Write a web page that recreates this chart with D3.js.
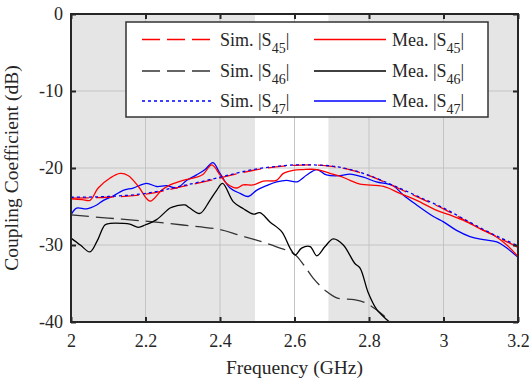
<!DOCTYPE html>
<html lang="en">
<head>
  <meta charset="UTF-8">
  <title>Coupling Coefficient</title>
  <script src="https://d3js.org/d3.v7.min.js"></script>
  <style>
    body { margin: 0; background: #fff; }
    text { font-family: "Liberation Serif", "Times New Roman", serif; fill: #262626; }
  </style>
</head>
<body>
  <svg id="chart" width="530" height="382"></svg>

  <script>
    // frequency (GHz) / coupling (dB) pairs
    const simS45 = [[2.0,-23.9],[2.1,-23.8],[2.2,-23.4],[2.3,-22.4],[2.4,-21.3],[2.45,-20.7],[2.5,-20.2],[2.55,-19.85],[2.6,-19.65],[2.65,-19.6],[2.7,-19.8],[2.75,-20.25],[2.8,-21.0],[2.85,-22.0],[2.9,-23.1],[2.95,-24.2],[3.0,-25.3],[3.05,-26.6],[3.1,-27.9],[3.15,-29.1],[3.2,-30.3]];
    const simS46 = [[2.0,-26.1],[2.1,-26.5],[2.2,-26.9],[2.3,-27.4],[2.4,-28.0],[2.45,-28.7],[2.5,-29.4],[2.55,-30.2],[2.6,-31.2],[2.625,-32.6],[2.65,-34.3],[2.685,-36.0],[2.715,-36.9],[2.76,-37.1],[2.79,-37.5],[2.82,-38.4],[2.85,-39.6],[2.88,-40.8],[2.95,-43]];
    const simS47 = [[2.0,-23.8],[2.1,-23.7],[2.2,-23.3],[2.3,-22.3],[2.4,-21.2],[2.45,-20.6],[2.5,-20.1],[2.55,-19.8],[2.6,-19.6],[2.65,-19.6],[2.7,-19.75],[2.75,-20.2],[2.8,-20.95],[2.85,-21.95],[2.9,-23.0],[2.95,-24.1],[3.0,-25.2],[3.05,-26.5],[3.1,-27.8],[3.15,-29.0],[3.2,-30.1]];

    const meaS45 = [[2.0,-24.0],[2.03,-24.1],[2.051,-24.2],[2.073,-22.6],[2.105,-21.3],[2.132,-20.7],[2.154,-21.0],[2.181,-22.4],[2.212,-24.3],[2.243,-22.9],[2.266,-22.2],[2.301,-21.6],[2.337,-21.2],[2.355,-20.8],[2.378,-19.6],[2.4,-20.9],[2.418,-22.0],[2.445,-22.6],[2.462,-22.2],[2.489,-22.2],[2.516,-21.7],[2.552,-21.6],[2.57,-20.7],[2.596,-20.3],[2.623,-20.2],[2.66,-20.2],[2.695,-20.7],[2.73,-21.2],[2.749,-21.6],[2.776,-22.1],[2.839,-22.4],[2.883,-23.3],[2.928,-24.2],[2.982,-25.5],[3.017,-26.1],[3.062,-27.0],[3.107,-28.1],[3.134,-28.7],[3.17,-30.0],[3.2,-31.5]];
    const meaS46 = [[2.0,-29.1],[2.025,-30.0],[2.051,-30.9],[2.07,-29.5],[2.091,-27.4],[2.105,-27.2],[2.14,-27.2],[2.158,-27.3],[2.181,-27.7],[2.199,-27.4],[2.23,-26.7],[2.266,-25.2],[2.284,-24.9],[2.306,-24.8],[2.319,-25.2],[2.346,-25.9],[2.373,-24.2],[2.391,-22.9],[2.407,-22.0],[2.436,-24.4],[2.463,-25.3],[2.49,-26.0],[2.507,-25.8],[2.534,-27.0],[2.566,-28.3],[2.588,-30.4],[2.602,-31.3],[2.619,-30.4],[2.642,-30.2],[2.66,-31.4],[2.682,-30.2],[2.704,-29.2],[2.731,-30.0],[2.762,-32.4],[2.776,-33.0],[2.798,-36.2],[2.821,-38.4],[2.848,-39.7],[2.87,-40.6],[2.9,-42]];
    const meaS47 = [[2.0,-26.1],[2.015,-25.2],[2.042,-25.3],[2.069,-24.8],[2.087,-24.2],[2.114,-23.6],[2.14,-22.9],[2.167,-22.6],[2.203,-22.0],[2.23,-22.4],[2.257,-22.3],[2.284,-22.6],[2.311,-21.6],[2.337,-20.9],[2.36,-20.2],[2.381,-19.3],[2.4,-20.7],[2.427,-22.6],[2.454,-23.3],[2.476,-23.7],[2.498,-22.9],[2.525,-22.3],[2.552,-21.8],[2.579,-21.6],[2.606,-21.8],[2.633,-20.9],[2.66,-20.2],[2.686,-20.9],[2.722,-21.0],[2.749,-20.8],[2.785,-21.2],[2.82,-21.8],[2.865,-22.3],[2.892,-23.5],[2.928,-24.8],[2.973,-26.3],[3.0,-27.0],[3.035,-28.1],[3.071,-28.9],[3.107,-29.3],[3.143,-29.6],[3.17,-30.4],[3.2,-31.6]];

    // shaded (out-of-band) frequency ranges
    const bands = [[2.0, 2.494], [2.691, 3.2]];
    const xTicks = [2, 2.2, 2.4, 2.6, 2.8, 3, 3.2];
    const yTicks = [0, -10, -20, -30, -40];

    const series = [
      { name: 'Sim. |S', sub: '45', data: simS45, color: '#ff0000', dash: '18,7' },
      { name: 'Sim. |S', sub: '46', data: simS46, color: '#333333', dash: '18,7' },
      { name: 'Sim. |S', sub: '47', data: simS47, color: '#0000ff', dash: '3,3' },
      { name: 'Mea. |S', sub: '45', data: meaS45, color: '#ff0000', dash: null },
      { name: 'Mea. |S', sub: '46', data: meaS46, color: '#000000', dash: null },
      { name: 'Mea. |S', sub: '47', data: meaS47, color: '#0000ff', dash: null }
    ];

    const margin = { top: 14, right: 12, bottom: 60, left: 71 };
    const width = 530 - margin.left - margin.right;
    const height = 382 - margin.top - margin.bottom;

    const svg = d3.select('#chart');
    const g = svg.append('g').attr('transform', `translate(${margin.left},${margin.top})`);

    const x = d3.scaleLinear().domain([2, 3.2]).range([0, width]);
    const y = d3.scaleLinear().domain([-40, 0]).range([height, 0]);

    svg.append('defs').append('clipPath').attr('id', 'plot-clip')
      .append('rect').attr('width', width).attr('height', height);

    // gray bands
    g.selectAll('rect.band').data(bands).enter()
      .append('rect')
      .attr('class', 'band')
      .attr('x', d => x(d[0]))
      .attr('width', d => x(d[1]) - x(d[0]))
      .attr('y', 0)
      .attr('height', height)
      .attr('fill', '#e5e5e5');

    // grid
    g.selectAll('line.gx').data(xTicks.slice(1, -1)).enter()
      .append('line')
      .attr('x1', d => x(d)).attr('x2', d => x(d))
      .attr('y1', 0).attr('y2', height)
      .attr('stroke', '#c4c4c4').attr('stroke-width', 1);
    g.selectAll('line.gy').data(yTicks.slice(1, -1)).enter()
      .append('line')
      .attr('y1', d => y(d)).attr('y2', d => y(d))
      .attr('x1', 0).attr('x2', width)
      .attr('stroke', '#c4c4c4').attr('stroke-width', 1);

    // curves
    const line = d3.line()
      .x(d => x(d[0]))
      .y(d => y(d[1]))
      .curve(d3.curveCatmullRom.alpha(0.5));

    const plot = g.append('g').attr('clip-path', 'url(#plot-clip)');
    const drawOrder = [1, 4, 5, 3, 0, 2];
    drawOrder.forEach(i => {
      const s = series[i];
      plot.append('path')
        .datum(s.data)
        .attr('d', line)
        .attr('fill', 'none')
        .attr('stroke', s.color)
        .attr('stroke-width', 1.3)
        .attr('stroke-dasharray', s.dash);
    });

    // axes (plain hyphen for negatives, like the original)
    const fmt = d => String(d);
    g.append('g')
      .attr('transform', `translate(0,${height})`)
      .call(d3.axisBottom(x).tickValues(xTicks).tickFormat(fmt).tickSizeInner(-5).tickSizeOuter(0).tickPadding(12))
      .call(a => a.select('.domain').remove());
    g.append('g')
      .call(d3.axisTop(x).tickValues(xTicks).tickFormat('').tickSizeInner(-5).tickSizeOuter(0))
      .call(a => a.select('.domain').remove());
    g.append('g')
      .call(d3.axisLeft(y).tickValues(yTicks).tickFormat(fmt).tickSizeInner(-5).tickSizeOuter(0).tickPadding(8))
      .call(a => a.select('.domain').remove());
    g.append('g')
      .attr('transform', `translate(${width},0)`)
      .call(d3.axisRight(y).tickValues(yTicks).tickFormat('').tickSizeInner(-5).tickSizeOuter(0))
      .call(a => a.select('.domain').remove());

    g.selectAll('.tick line').attr('stroke', '#262626').attr('stroke-width', 2);
    g.selectAll('.tick text')
      .style('font-family', '"Liberation Serif", "Times New Roman", serif')
      .style('font-size', '18px')
      .attr('fill', '#262626');

    g.append('rect')
      .attr('width', width).attr('height', height)
      .attr('fill', 'none').attr('stroke', '#262626').attr('stroke-width', 2);

    // axis titles
    g.append('text')
      .attr('x', width / 2).attr('y', height + 52)
      .attr('text-anchor', 'middle')
      .style('font-size', '19.5px')
      .text('Frequency (GHz)');
    g.append('text')
      .attr('transform', `translate(${-53},${height / 2}) rotate(-90)`)
      .attr('text-anchor', 'middle')
      .style('font-size', '19.5px')
      .text('Coupling Coefficient (dB)');

    // legend
    const legend = svg.append('g').attr('transform', 'translate(126,22)');
    legend.append('rect')
      .attr('width', 362).attr('height', 95)
      .attr('fill', '#fff').attr('stroke', '#333').attr('stroke-width', 1.5);

    const rowY = [17.5, 49, 79];
    series.forEach((s, i) => {
      const col = Math.floor(i / 3);
      const row = i % 3;
      const lx = col === 0 ? 16 : 188;
      const item = legend.append('g').attr('transform', `translate(${lx},${rowY[row]})`);
      item.append('line')
        .attr('x1', 0).attr('x2', 72)
        .attr('stroke', s.color)
        .attr('stroke-width', 1.5)
        .attr('stroke-dasharray', s.dash);
      const t = item.append('text')
        .attr('x', 78).attr('y', 6)
        .style('font-size', '18px');
      t.append('tspan').text(s.name);
      t.append('tspan').attr('dy', 7).style('font-size', '14px').text(s.sub);
      t.append('tspan').attr('dy', -7).text('|');
    });
  </script>
</body>
</html>
